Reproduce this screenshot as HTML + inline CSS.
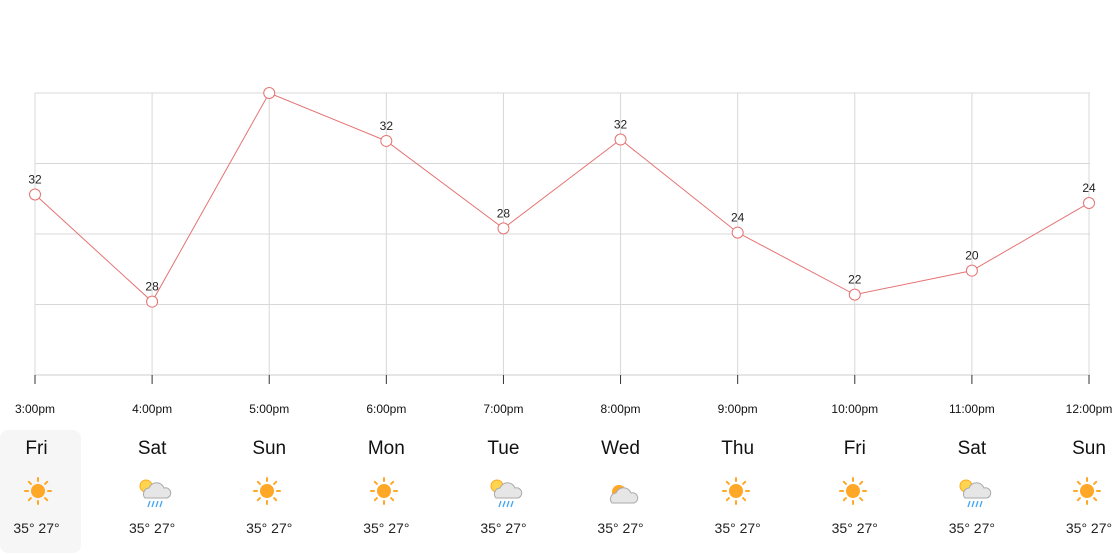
<!DOCTYPE html>
<html><head><meta charset="utf-8"><style>
body{margin:0;width:1119px;height:554px;background:#fff;font-family:"Liberation Sans",sans-serif;overflow:hidden;position:relative}
.day{position:absolute;top:430px;width:82px;height:123px;text-align:center;color:#111}
.day .n{position:absolute;top:8px;width:100%;font-size:19px}
.day .t{position:absolute;top:90px;width:100%;font-size:14px;color:#222}
.day svg{position:absolute;left:21px;top:41px}
.sel{background:#f6f6f6;border-radius:8px}
</style></head><body>
<svg id="chart" width="1119" height="425" style="position:absolute;left:0;top:0"></svg>
<div id="days"></div>
<script>
const times=["3:00pm","4:00pm","5:00pm","6:00pm","7:00pm","8:00pm","9:00pm","10:00pm","11:00pm","12:00pm"];
const temps=[28.8,21.2,36,32.6,26.4,32.7,26.1,21.7,23.4,28.2];
const labels=["32","28","","32","28","32","24","22","20","24"];
const yTicks=[16,21,26,31,36];
const days=["Fri","Sat","Sun","Mon","Tue","Wed","Thu","Fri","Sat","Sun"];
const icons=["sun","rain","sun","sun","rain","cloud","sun","sun","rain","sun"];
const hi=[35,35,35,35,35,35,35,35,35,35];
const lo=[27,27,27,27,27,27,27,27,27,27];
const NS="http://www.w3.org/2000/svg";
const svg=document.getElementById('chart');
const x=i=>35+i*(1054/(times.length-1));
const y=v=>375-(v-16)*(282/20);
function mk(t,a,p){const e=document.createElementNS(NS,t);for(const k in a)e.setAttribute(k,a[k]);(p||svg).appendChild(e);return e;}
yTicks.forEach((v,i)=>{const l=mk('line',{x1:35,x2:1090,y1:y(v),y2:y(v),stroke:i==0?'#ccc':'#d8d8d8','stroke-width':1});

});
times.forEach((t,i)=>{const l=mk('line',{x1:x(i),x2:x(i),y1:93,y2:375,stroke:'#d8d8d8'});


const tk=mk('line',{x1:x(i),x2:x(i),y1:375,y2:384,stroke:'#333'});


const tx=mk('text',{x:x(i),y:413,'text-anchor':'middle','font-size':12,fill:'#111'});tx.textContent=t;

});
const pl=mk('polyline',{points:temps.map((v,i)=>x(i)+','+y(v)).join(' '),fill:'none',stroke:'#e57373','stroke-width':1});


temps.forEach((v,i)=>{const c=mk('circle',{cx:x(i),cy:y(v),r:5.5,fill:'#fff',stroke:'#e57373'});


if(labels[i]){const t=mk('text',{x:x(i),y:y(v)-11,'text-anchor':'middle','font-size':12,fill:'#222'});t.textContent=labels[i];

}});
function sun(cx,cy,r){let s=`<circle cx="${cx}" cy="${cy}" r="${r}" fill="#ffa726"/>`;for(let k=0;k<8;k++){const a=k*Math.PI/4;s+=`<line x1="${cx+Math.cos(a)*(r+3)}" y1="${cy+Math.sin(a)*(r+3)}" x2="${cx+Math.cos(a)*(r+6)}" y2="${cy+Math.sin(a)*(r+6)}" stroke="#ffa726" stroke-width="2" stroke-linecap="round"/>`;}return s;}
const cloud='<path d="M16 30 a6 6 0 0 1 4-10 a8 8 0 0 1 15 0 a5 5 0 0 1 3 10z" fill="#e6e6e6" stroke="#aaa" stroke-width="1"/>';
const drops='<g stroke="#42a5f5" stroke-width="1.3"><line x1="21" y1="33" x2="19" y2="39"/><line x1="25" y1="33" x2="23" y2="39"/><line x1="29" y1="33" x2="27" y2="39"/><line x1="33" y1="33" x2="31" y2="39"/></g>';
const wrap=document.getElementById('days');
days.forEach((d,i)=>{const el=document.createElement('div');
el.className='day'+(i==0?' sel':'');
el.style.left=(x(i)-41)+'px';
if(i==0)el.style.left='0px';


let ic=icons[i]=='sun'?sun(18,20,7):icons[i]=='rain'?`<g transform="translate(-3,-3)"><circle cx="17" cy="18" r="6" fill="#ffd54f" stroke="#ffa726"/>${cloud}${drops}</g>`:`<circle cx="18" cy="21" r="7" fill="#ffa726"/>${cloud.replace('M16 30','M11 32')}`;
el.innerHTML=`<div class="n">${d}</div><svg width="40" height="44">${ic}</svg><div class="t">${hi[i]}° ${lo[i]}°</div>`;
if(i==0){el.style.width='81px';el.querySelectorAll('.n,.t').forEach(n=>{n.style.left='-4px'});el.querySelector('svg').style.left='20px';}
wrap.appendChild(el);});
</script></body></html>
